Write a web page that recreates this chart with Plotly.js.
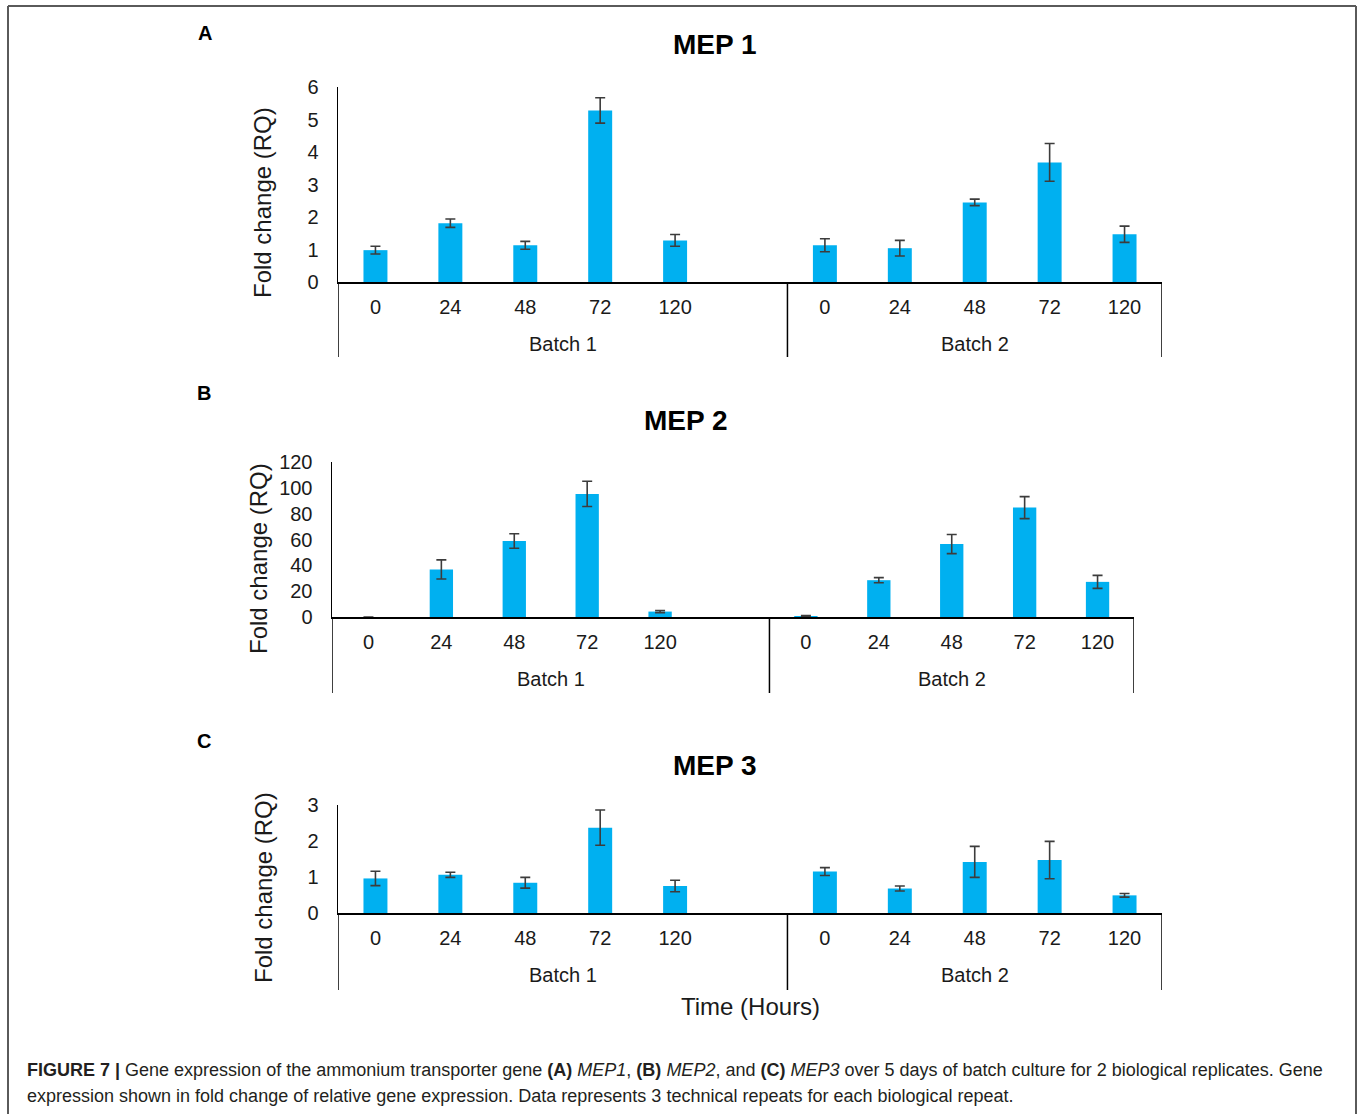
<!DOCTYPE html>
<html>
<head>
<meta charset="utf-8">
<script src="https://cdn.plot.ly/plotly-3.0.1.min.js"></script>
<style>html,body{margin:0;padding:0;background:#fff;}#chart{width:1362px;height:1114px;}</style>
</head>
<body>
<div id="chart"></div>
<script>
// ---------------- data ----------------
const hours = ['0', '24', '48', '72', '120'];
const batches = ['Batch 1', 'Batch 2'];
const panelTitles = ['MEP 1', 'MEP 2', 'MEP 3'];
const panelLetters = ['A', 'B', 'C'];

const mep1Batch1 = [0.98, 1.81, 1.13, 5.28, 1.28];
const mep1Batch1Err = [0.12, 0.13, 0.12, 0.39, 0.18];
const mep1Batch2 = [1.13, 1.04, 2.45, 3.68, 1.47];
const mep1Batch2Err = [0.20, 0.24, 0.10, 0.58, 0.25];

const mep2Batch1 = [0, 36.8, 58.8, 95.3, 4.2];
const mep2Batch1Err = [0.0, 7.4, 5.6, 9.8, 0.8];
const mep2Batch2 = [0.8, 28.5, 56.5, 84.7, 27.2];
const mep2Batch2Err = [0.3, 2.0, 7.4, 8.5, 5.0];

const mep3Batch1 = [0.96, 1.06, 0.84, 2.37, 0.75];
const mep3Batch1Err = [0.20, 0.07, 0.15, 0.49, 0.16];
const mep3Batch2 = [1.15, 0.68, 1.42, 1.47, 0.49];
const mep3Batch2Err = [0.11, 0.07, 0.43, 0.52, 0.05];

const yTickValues = [[0, 1, 2, 3, 4, 5, 6], [0, 20, 40, 60, 80, 100, 120], [0, 1, 2, 3]];

// ---------------- layout helpers ----------------
const W = 1362, H = 1114;
const FONT = 'Liberation Sans, Arial, Helvetica, sans-serif';
const BAR = '#00b0f0';
const INK = '#1a1a1a';
const px = v => v / W;
const py = v => 1 - v / H;

// batch 1 has one extra empty slot after 120 (as in the original sheet)
const slotsPerBatch = [hours.length + 1, hours.length];
const totalSlots = slotsPerBatch[0] + slotsPerBatch[1];
const slotPos = (b, i) => (b === 0 ? 0 : slotsPerBatch[0]) + i;

const panels = [
  { vals: [mep1Batch1, mep1Batch2], errs: [mep1Batch1Err, mep1Batch2Err], left: 338, right: 1162, top: 87, base: 282, bottom: 357, title: [715, 45], letter: [205, 33], ytitle: [263, 203] },
  { vals: [mep2Batch1, mep2Batch2], errs: [mep2Batch1Err, mep2Batch2Err], left: 332, right: 1134, top: 462, base: 617, bottom: 693, title: [686, 420], letter: [204, 393], ytitle: [258, 559] },
  { vals: [mep3Batch1, mep3Batch2], errs: [mep3Batch1Err, mep3Batch2Err], left: 338, right: 1162, top: 805, base: 913, bottom: 990, title: [715, 765], letter: [204, 741], ytitle: [263, 888] }
];

const traces = [];
const layout = {
  width: W, height: H,
  margin: { l: 0, r: 0, t: 0, b: 0 },
  paper_bgcolor: '#ffffff', plot_bgcolor: '#ffffff',
  showlegend: false,
  font: { family: FONT, color: INK },
  annotations: [], shapes: []
};

panels.forEach((p, k) => {
  const sfx = k === 0 ? '' : String(k + 1);
  const xa = 'x' + sfx, ya = 'y' + sfx;
  const tickvals = [], ticktext = [];
  for (let b = 0; b < batches.length; b++) {
    const xs = hours.map((h, i) => slotPos(b, i));
    xs.forEach((x, i) => { tickvals.push(x); ticktext.push(hours[i]); });
    traces.push({
      type: 'bar', x: xs, y: p.vals[b], xaxis: xa, yaxis: ya,
      width: 0.32, marker: { color: BAR, line: { width: 0 } },
      error_y: { type: 'data', array: p.errs[b], visible: true, color: '#3c3c3c', thickness: 1.6, width: 5 },
      hoverinfo: 'skip'
    });
  }
  layout['xaxis' + sfx] = {
    domain: [px(p.left), px(p.right)], anchor: ya,
    range: [-0.5, totalSlots - 0.5], fixedrange: true,
    showgrid: false, zeroline: false,
    showline: true, linecolor: '#000', linewidth: 1.5,
    ticks: '', tickvals: tickvals, ticktext: ticktext,
    tickfont: { family: FONT, size: 20, color: INK },
    ticklabelstandoff: 6
  };
  const yt = yTickValues[k];
  layout['yaxis' + sfx] = {
    domain: [py(p.base), py(p.top)], anchor: xa,
    range: [0, yt[yt.length - 1]], fixedrange: true,
    showgrid: false, zeroline: false,
    showline: true, linecolor: '#000', linewidth: 1.5,
    ticks: '', tickvals: yt,
    tickfont: { family: FONT, size: 20, color: INK },
    ticklabelstandoff: 14
  };
  // vertical category separators below the axis
  [-0.5, slotsPerBatch[0] - 0.5, totalSlots - 0.5].forEach(xv => {
    layout.shapes.push({
      type: 'line', xref: xa, yref: 'paper', x0: xv, x1: xv,
      y0: py(p.base), y1: py(p.bottom),
      line: { color: '#000', width: 1.5 }
    });
  });
  // batch labels
  batches.forEach((bl, b) => {
    const start = b === 0 ? -0.5 : slotsPerBatch[0] - 0.5;
    layout.annotations.push({
      xref: xa, yref: 'paper', x: start + slotsPerBatch[b] / 2, y: py(p.base + 62),
      text: bl, showarrow: false, xanchor: 'center', yanchor: 'middle',
      font: { family: FONT, size: 20, color: INK }
    });
  });
  // panel title
  layout.annotations.push({
    xref: 'paper', yref: 'paper', x: px(p.title[0]), y: py(p.title[1]),
    text: '<b>' + panelTitles[k] + '</b>', showarrow: false, xanchor: 'center', yanchor: 'middle',
    font: { family: FONT, size: 28, color: '#000' }
  });
  // panel letter
  layout.annotations.push({
    xref: 'paper', yref: 'paper', x: px(p.letter[0]), y: py(p.letter[1]),
    text: '<b>' + panelLetters[k] + '</b>', showarrow: false, xanchor: 'center', yanchor: 'middle',
    font: { family: FONT, size: 20, color: '#000' }
  });
  // y-axis title
  layout.annotations.push({
    xref: 'paper', yref: 'paper', x: px(p.ytitle[0]), y: py(p.ytitle[1]),
    text: 'Fold change (RQ)', showarrow: false, textangle: -90, xanchor: 'center', yanchor: 'middle',
    font: { family: FONT, size: 24, color: INK }
  });
});

// common x title
layout.annotations.push({
  xref: 'paper', yref: 'paper', x: px(751), y: py(1006),
  text: 'Time (Hours)', showarrow: false, xanchor: 'center', yanchor: 'middle',
  font: { family: FONT, size: 24, color: INK }
});

// caption
layout.annotations.push({
  xref: 'paper', yref: 'paper', x: px(25), y: py(1070), xanchor: 'left', yanchor: 'middle', showarrow: false,
  text: '<b>FIGURE 7 |</b> Gene expression of the ammonium transporter gene <b>(A)</b> <i>MEP1</i>, <b>(B)</b> <i>MEP2</i>, and <b>(C)</b> <i>MEP3</i> over 5 days of batch culture for 2 biological replicates. Gene',
  font: { family: FONT, size: 18, color: '#231f20' }
});
layout.annotations.push({
  xref: 'paper', yref: 'paper', x: px(25), y: py(1096), xanchor: 'left', yanchor: 'middle', showarrow: false,
  text: 'expression shown in fold change of relative gene expression. Data represents 3 technical repeats for each biological repeat.',
  font: { family: FONT, size: 18, color: '#231f20' }
});

// outer frame (left, top, right)
const frame = { color: '#5a5a5a', width: 2 };
layout.shapes.push({ type: 'line', xref: 'paper', yref: 'paper', x0: px(8), x1: px(8), y0: py(6), y1: 0, line: frame });
layout.shapes.push({ type: 'line', xref: 'paper', yref: 'paper', x0: px(8), x1: px(1356), y0: py(6), y1: py(6), line: frame });
layout.shapes.push({ type: 'line', xref: 'paper', yref: 'paper', x0: px(1356), x1: px(1356), y0: py(6), y1: 0, line: frame });

Plotly.newPlot('chart', traces, layout, { displayModeBar: false, staticPlot: true });
</script>
</body>
</html>
